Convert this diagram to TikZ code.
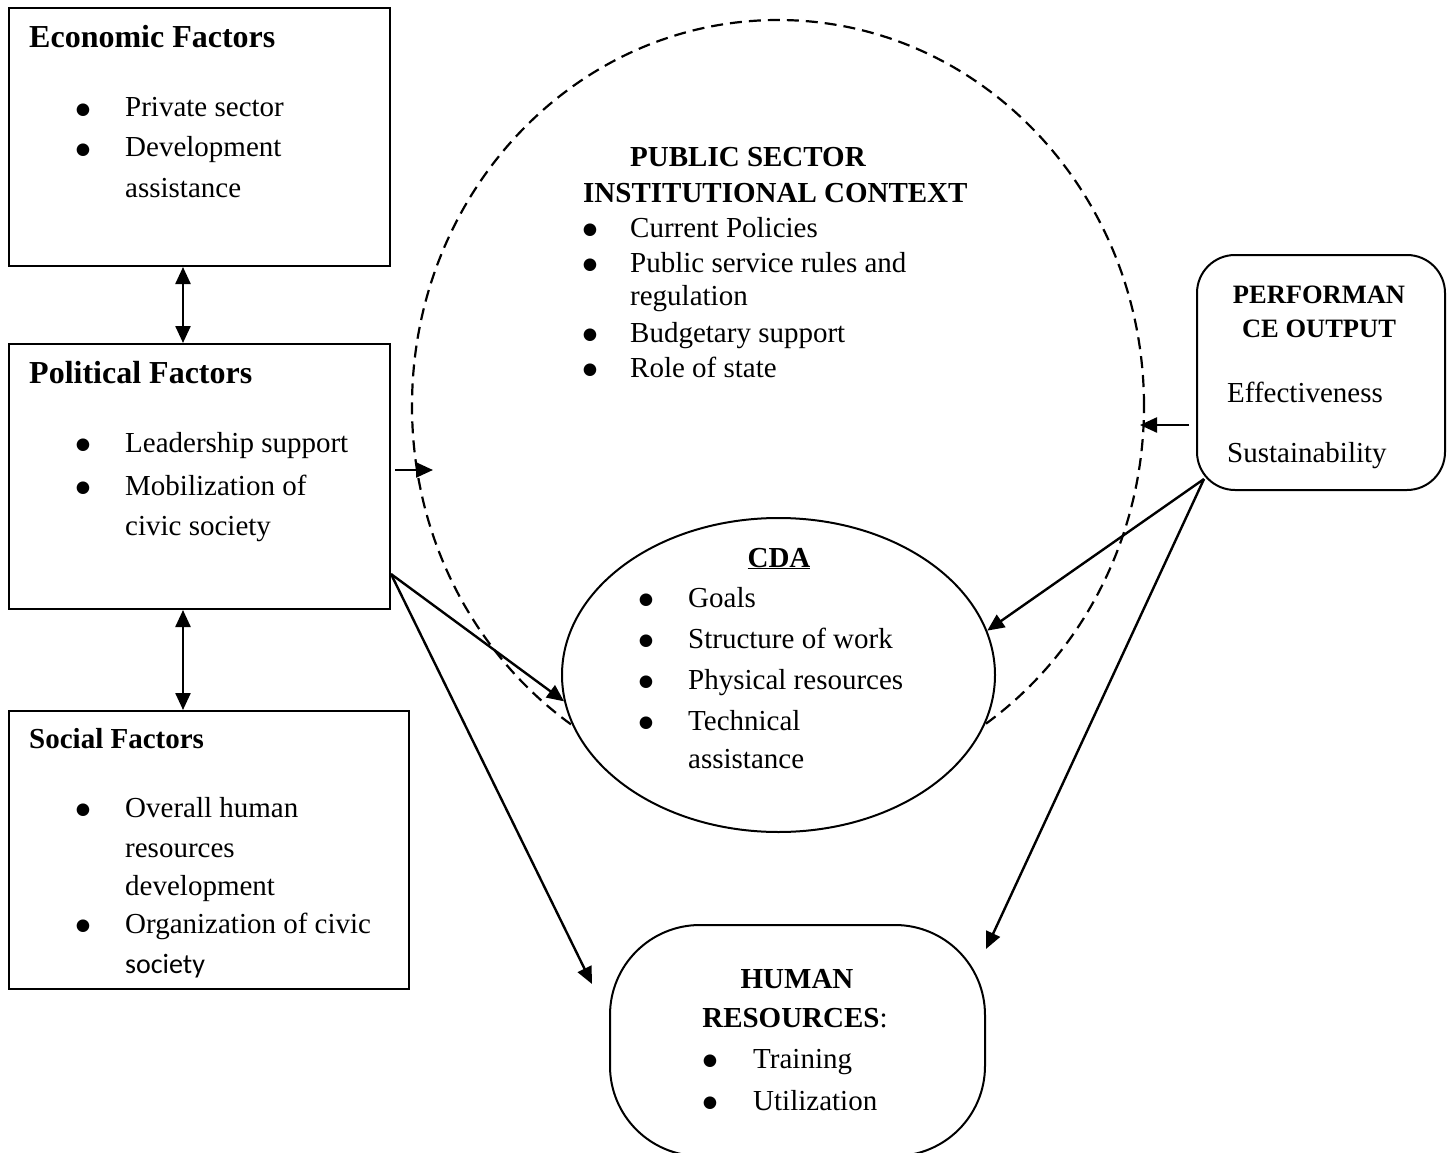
\documentclass[tikz,border=0pt]{standalone}
\usepackage{fontspec}
\setmainfont{Liberation Serif}
\newfontfamily\calib{Carlito}
\newfontfamily\bulfont{DejaVu Sans}
\usetikzlibrary{arrows.meta,shapes.geometric,calc}
\begin{document}
\begin{tikzpicture}[x=1pt,y=-1pt,
  box/.style={draw, line width=2pt, rectangle, inner sep=0pt, anchor=north west},
  rbox/.style={draw, line width=2pt, rectangle, inner sep=0pt},
  txt/.style={inner sep=0pt, anchor=base west, font=\fontsize{29}{35}\selectfont},
  ctxt/.style={inner sep=0pt, anchor=base, font=\fontsize{29}{35}\selectfont},
  ttl/.style={inner sep=0pt, anchor=base west, font=\fontsize{32}{38}\selectfont\bfseries},
  bul/.style={inner sep=0pt, anchor=base, yshift=2.4pt, font=\fontsize{16.5}{18}\bulfont},
  arr/.style={line width=2.4pt, -{Triangle[length=17pt,width=15pt]}},
  darr/.style={line width=2.4pt, {Triangle[length=17pt,width=15pt]}-{Triangle[length=17pt,width=15pt]}},
  dsh/.style={draw, line width=2.2pt, dash pattern=on 12pt off 7pt}
]
\useasboundingbox (0,0) rectangle (1451,1153);

% ---- left boxes
\node[box, minimum width=381pt, minimum height=258pt] (econ) at (8,7) {};
\node[box, minimum width=381pt, minimum height=265pt] (pol) at (8,343) {};
\node[box, minimum width=400pt, minimum height=278pt] (soc) at (8,710) {};

\node[ttl] (et) at (29,48) {Economic Factors};
\node[bul] (eb1) at (83,117) {●};
\node[txt] (e1) at (125,117) {Private sector};
\node[bul] (eb2) at (83,157) {●};
\node[txt] (e2) at (125,157) {Development};
\node[txt] (e3) at (125,197) {assistance};

\node[ttl] (pt) at (29,383) {Political Factors};
\node[bul] (pb1) at (83,452) {●};
\node[txt] (p1) at (125,452) {Leadership support};
\node[bul] (pb2) at (83,495) {●};
\node[txt] (p2) at (125,495) {Mobilization of};
\node[txt] (p3) at (125,535) {civic society};

\node[ttl, font=\fontsize{29}{35}\selectfont\bfseries] (st) at (29,748) {Social Factors};
\node[bul] (sb1) at (83,817) {●};
\node[txt] (s1) at (125,817) {Overall human};
\node[txt] (s2) at (125,857) {resources};
\node[txt] (s3) at (125,895) {development};
\node[bul] (sb2) at (83,933) {●};
\node[txt] (s4) at (125,933) {Organization of civic};
\node[txt, font=\fontsize{28}{34}\calib] (s5) at (125,973) {society};

% ---- public sector dashed oval
\node[dsh, ellipse, minimum width=732pt, minimum height=772pt, inner sep=0pt] (psic) at (778,406) {};

\node[ttl, font=\fontsize{29}{35}\selectfont\bfseries] (ps1) at (630,167) {PUBLIC SECTOR};
\node[ttl, font=\fontsize{29}{35}\selectfont\bfseries] (ps2) at (583,202) {INSTITUTIONAL CONTEXT};
\node[bul] (psb1) at (590,237) {●};
\node[txt] (q1) at (630,237) {Current Policies};
\node[bul] (psb2) at (590,272) {●};
\node[txt] (q2) at (630,272) {Public service rules and};
\node[txt] (q3) at (630,305) {regulation};
\node[bul] (psb3) at (590,342) {●};
\node[txt] (q4) at (630,342) {Budgetary support};
\node[bul] (psb4) at (590,377) {●};
\node[txt] (q5) at (630,377) {Role of state};

% ---- CDA
\node[draw, line width=2pt, ellipse, fill=white, minimum width=433pt, minimum height=314pt, inner sep=0pt] (cda) at (778.5,675) {};
\node[ctxt, font=\fontsize{29}{35}\selectfont\bfseries] (ct) at (779,567) {\underline{CDA}};
\node[bul] (cb1) at (646,607) {●};
\node[txt] (c1) at (688,607) {Goals};
\node[bul] (cb2) at (646,648) {●};
\node[txt] (c2) at (688,648) {Structure of work};
\node[bul] (cb3) at (646,689) {●};
\node[txt] (c3) at (688,689) {Physical resources};
\node[bul] (cb4) at (646,730) {●};
\node[txt] (c4) at (688,730) {Technical};
\node[txt] (c5) at (688,768) {assistance};

% ---- performance output
\node[rbox, rounded corners=38pt, minimum width=248pt, minimum height=235pt] (perf) at (1321,372.5) {};
\node[ctxt, font=\fontsize{26.5}{32}\selectfont\bfseries] (pf1) at (1319,303) {PERFORMAN};
\node[ctxt, font=\fontsize{26.5}{32}\selectfont\bfseries] (pf2) at (1319,337) {CE OUTPUT};
\node[txt] (pf3) at (1227,402) {Effectiveness};
\begin{scope}
\clip (1199,257) rectangle (1443,469);
\node[txt] (pf4) at (1227,462) {Sustainability};
\end{scope}

% ---- human resources
\node[rbox, rounded corners=90pt, minimum width=375pt, minimum height=231pt] (hr) at (797.5,1040.5) {};
\node[ctxt, font=\fontsize{29}{35}\selectfont\bfseries] (h1) at (797,988) {HUMAN};
\node[ctxt] (h2) at (795,1027) {\textbf{RESOURCES}:};
\node[bul] (hb1) at (710,1068) {●};
\node[txt] (h3) at (753,1068) {Training};
\node[bul] (hb2) at (710,1110) {●};
\node[txt] (h4) at (753,1110) {Utilization};

% ---- connectors
\coordinate (ax) at (183,0);
\draw[darr] (econ.south -| ax) -- (pol.north -| ax);
\draw[darr] (pol.south -| ax) -- (soc.north -| ax);

\coordinate (py) at (0,470);
\coordinate (psicL) at (433,470);
\draw[arr] ([xshift=4pt]pol.east |- py) -- (psicL);

\coordinate (pc) at ($(pol.south east)+(0,-36)$);
\draw[arr] (pc) -- (cda.187);
\draw[arr] (pc) -- ($(hr.north west)+(-17,60)$);

\coordinate (qy) at (0,425);
\coordinate (psicR) at (1140,425);
\draw[arr] ([xshift=-7pt]perf.west |- qy) -- (psicR);

\coordinate (pfc) at ($(perf.south west)+(8,-12)$);
\draw[arr] (pfc) -- (cda.12);
\draw[arr] (pfc) -- ($(hr.north east)+(0,25)$);
\end{tikzpicture}
\end{document}
